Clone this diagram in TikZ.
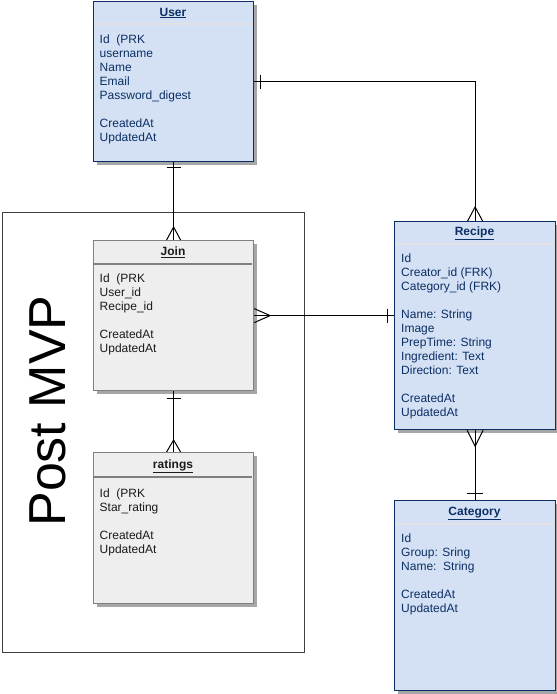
\documentclass[tikz,border=0pt]{standalone}
\usepackage{fontspec}
\setmainfont{Liberation Sans}
\definecolor{lblue}{HTML}{D4E1F5}
\definecolor{navy}{HTML}{0B2F63}
\definecolor{gfill}{HTML}{EEEEEE}
\definecolor{gline}{HTML}{808080}
\definecolor{sepb}{HTML}{E2E2E2}
\definecolor{txtg}{HTML}{1A1A1A}
\tikzset{
  ent/.style={draw, line width=1.2pt, anchor=north west, minimum width=160pt, inner sep=0pt,
    preaction={fill=black!35, transform canvas={xshift=3pt,yshift=-3pt}}},
  bluebox/.style={ent, draw=navy, fill=lblue},
  greybox/.style={ent, draw=gline, fill=gfill},
  headb/.style={anchor=base, text=navy, font=\fontsize{12}{14}\selectfont\bfseries},
  headg/.style={anchor=base, text=txtg, font=\fontsize{12}{14}\selectfont\bfseries},
  bodyb/.style={anchor=north west, align=left, inner sep=0pt, text=navy, font=\fontsize{12}{14}\selectfont},
  bodyg/.style={anchor=north west, align=left, inner sep=0pt, text=txtg, font=\fontsize{12}{14}\selectfont},
  sepblue/.style={draw=sepb, line width=1.2pt},
  sepgrey/.style={draw=gline, line width=1.2pt},
  conn/.style={draw=black, line width=1pt},
  framebox/.style={draw=black!75, line width=1pt, anchor=north west, inner sep=0pt, fill=white},
}
\begin{document}
\begin{tikzpicture}[x=1pt,y=-1pt]
\useasboundingbox (0,0) rectangle (557,694);

% Post MVP frame
\node[framebox, minimum width=302pt, minimum height=440pt] (mvp) at (2,212) {};
\node[rotate=90, font=\fontsize{52}{60}\selectfont, inner sep=0pt] (mvptext) at (48,411) {Post MVP};

% entity boxes
\node[bluebox, minimum height=160pt] (user) at (93,1) {};
\node[greybox, minimum height=150pt] (join) at (93,240) {};
\node[greybox, minimum height=151pt] (ratings) at (93,452) {};
\node[bluebox, minimum width=161pt, minimum height=208pt] (recipe) at (394,221) {};
\node[bluebox, minimum width=161pt, minimum height=190pt] (category) at (394,500) {};

% header separators
\draw[sepblue] (93.6,24) -- (252.4,24);
\draw[sepgrey] (93.6,264) -- (252.4,264);
\draw[sepgrey] (93.6,477) -- (252.4,477);
\draw[sepblue] (394.6,244) -- (554.4,244);
\draw[sepblue] (394.6,524) -- (554.4,524);

% headers
\node[headb] (userh) at (173,16) {\underline{User}};
\node[headg] (joinh) at (173,255.5) {\underline{Join}};
\node[headg] (ratingsh) at (173,468) {\underline{ratings}};
\node[headb] (reciph) at (474.5,235.5) {\underline{Recipe}};
\node[headb] (cath) at (474.5,515.5) {\underline{Category}};

% bodies
\node[bodyb] (userb) at (99.5,33) {\strut Id\ \ (PRK\\username\\Name\\Email\\Password\_digest\\[14pt]CreatedAt\\UpdatedAt};
\node[bodyg] (joinb) at (99.5,272.5) {\strut Id\ \ (PRK\\User\_id\\Recipe\_id\\[14pt]CreatedAt\\UpdatedAt};
\node[bodyg] (ratingsb) at (99.5,487) {\strut Id\ \ (PRK\\Star\_rating\\[14pt]CreatedAt\\UpdatedAt};
\node[bodyb] (recipeb) at (401,252.5) {\strut Id\\Creator\_id (FRK)\\Category\_id (FRK)\\[14pt]Name: String\\Image\\PrepTime: String\\Ingredient: Text\\Direction: Text\\[14pt]CreatedAt\\UpdatedAt};
\node[bodyb] (catb) at (401,532.5) {\strut Id\\Group: Sring\\Name:\ \ String\\[14pt]CreatedAt\\UpdatedAt};

% connectors
% User -> Recipe
\draw[conn] (user.east) -| (recipe.north);
\draw[conn] ([xshift=6pt]user.east) ++(0,-7) -- ++(0,14);
\draw[conn] (recipe.north) ++(-7.5,0) -- ++(7.5,-14) -- ++(7.5,14);
% User -> Join
\draw[conn] (user.south) -- (join.north);
\draw[conn] (user.south) ++(-7,5) -- ++(14,0);
\draw[conn] (join.north) ++(-7,0) -- ++(7,-13) -- ++(7,13);
% Join -> Recipe
\draw[conn] (join.east) -- (join.east -| recipe.west);
\draw[conn] (join.east) ++(0,-7) -- ++(16,7) -- ++(-16,7);
\draw[conn] (join.east -| recipe.west) ++(-7,-7) -- ++(0,14);
% Join -> ratings
\draw[conn] (join.south) -- (ratings.north);
\draw[conn] (join.south) ++(-7,7) -- ++(14,0);
\draw[conn] (ratings.north) ++(-7,0) -- ++(7,-12) -- ++(7,12);
% Recipe -> Category
\draw[conn] (recipe.south) -- (category.north);
\draw[conn] (recipe.south) ++(-8,0) -- ++(8,16) -- ++(8,-16);
\draw[conn] (category.north) ++(-8,-7) -- ++(16,0);
\end{tikzpicture}
\end{document}
